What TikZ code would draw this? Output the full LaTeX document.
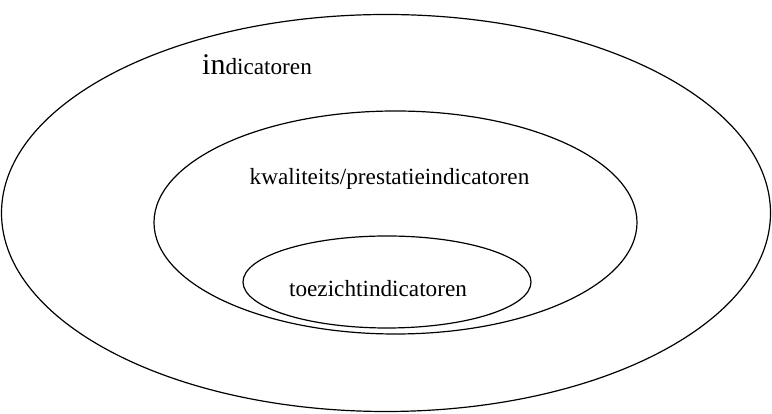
\documentclass[tikz,border=0pt]{standalone}
\usepackage{fontspec}
\setmainfont{Liberation Serif}
\begin{document}
\begin{tikzpicture}[x=1pt,y=1pt,
  ring/.style={draw=black,line width=1.2pt},
  lbl/.style={inner sep=0pt,font=\fontsize{23.2}{26}\selectfont}]
\useasboundingbox (0,0) rectangle (772,414);
\draw[ring] (386,201) ellipse [x radius=384.5, y radius=198.5];
\draw[ring] (395.5,191.5) ellipse [x radius=241.5, y radius=111.5];
\draw[ring] (387,132) ellipse [x radius=144, y radius=46];
\node[lbl,anchor=base west] (outer) at (202,339) {{\fontsize{30}{32}\selectfont in}dicatoren};
\node[lbl,anchor=base] (mid) at (389.5,229) {kwaliteits/prestatieindicatoren};
\node[lbl,anchor=base] (inner) at (378,117) {toezichtindicatoren};
\end{tikzpicture}
\end{document}
